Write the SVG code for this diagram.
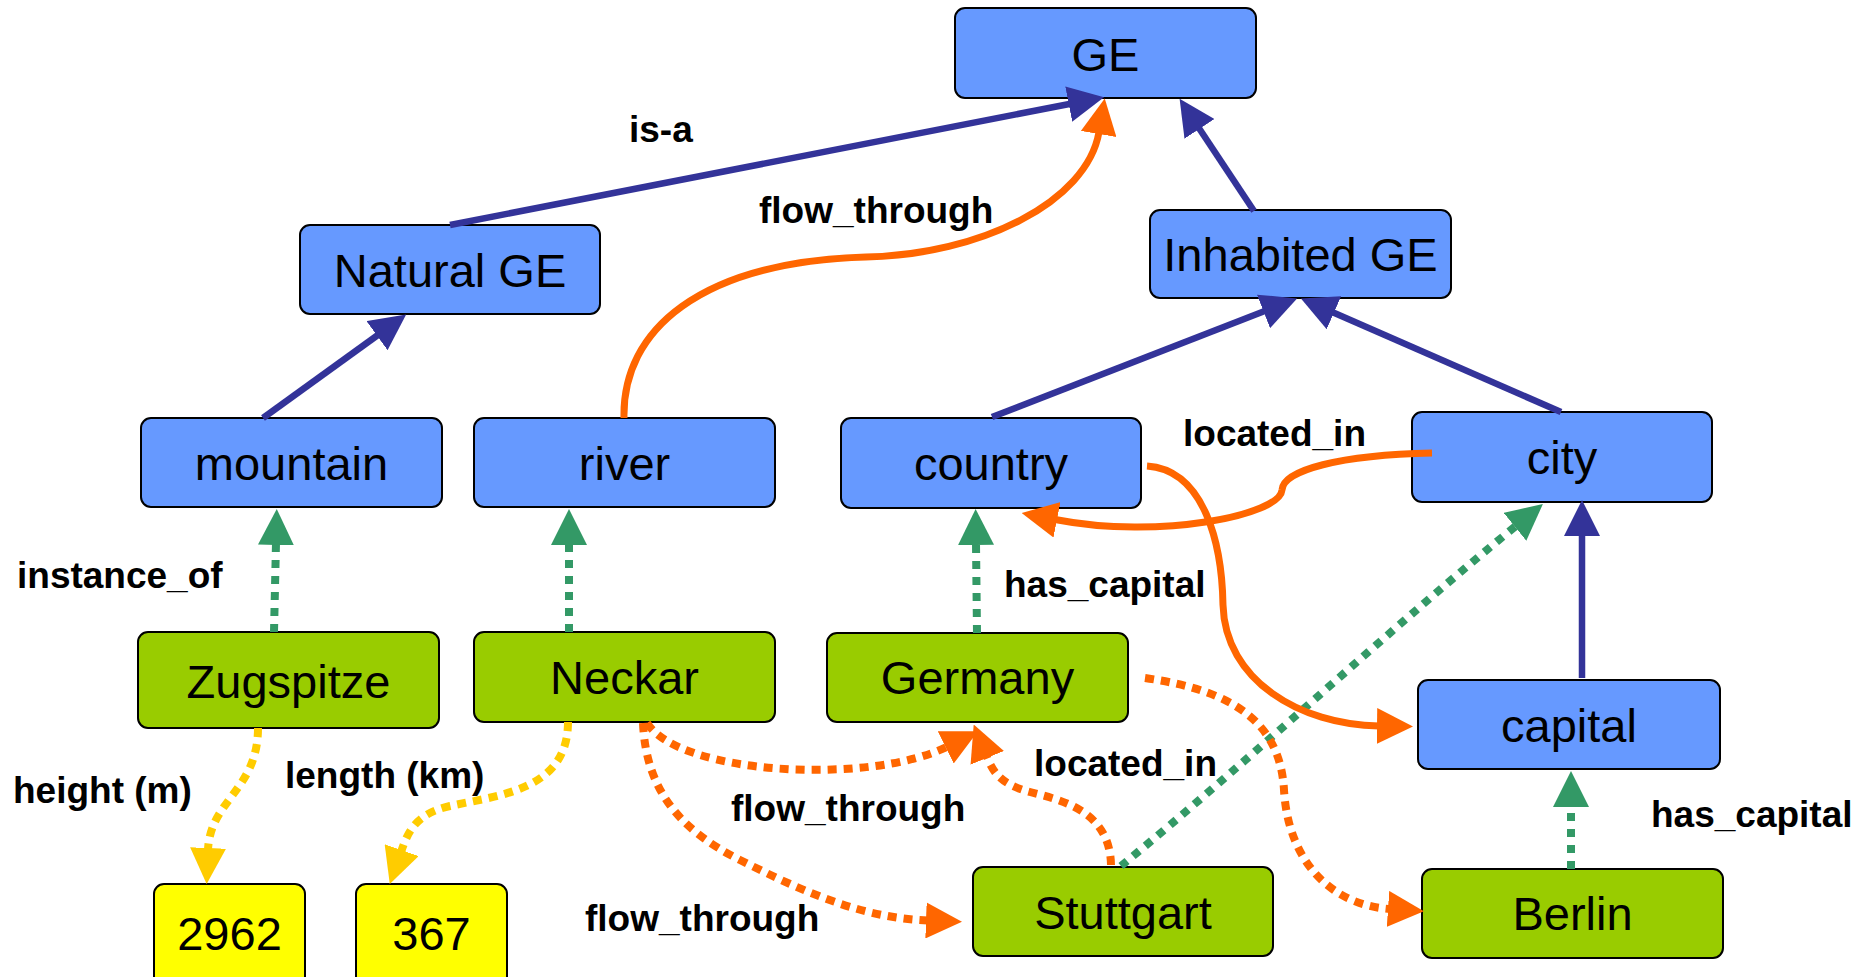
<svg xmlns="http://www.w3.org/2000/svg" width="1868" height="977" viewBox="0 0 1868 977">
  <style>
    .node rect { stroke: #000; stroke-width: 2; }
    .cls rect { fill: #6699ff; }
    .inst rect { fill: #99cc00; }
    .val rect { fill: #ffff00; }
    .node text { font-family: "Liberation Sans", Arial, sans-serif; font-size: 47px; fill: #000; text-anchor: middle; }
    .lbl { font-family: "Liberation Sans", Arial, sans-serif; font-size: 37px; font-weight: bold; fill: #000; }
    .e { fill: none; }
    .isa { stroke: #333399; stroke-width: 6.5; marker-end: url(#hBlue); }
    .rel { stroke: #ff6600; stroke-width: 7; marker-end: url(#hOrange); }
    .relDot { stroke: #ff6600; stroke-width: 8; stroke-dasharray: 9 7; marker-end: url(#hOrange); }
    .inst-of { stroke: #339966; stroke-width: 8; stroke-dasharray: 8 8; marker-end: url(#hGreen); }
    .attr { stroke: #ffcc00; stroke-width: 8; stroke-dasharray: 9 7; marker-end: url(#hYellow); }
  </style>
  <defs>
    <marker id="hBlue" markerUnits="userSpaceOnUse" viewBox="0 -18 36 36" markerWidth="36" markerHeight="36" refX="2" refY="0" orient="auto">
      <path d="M0,-18 L36,0 L0,18 z" fill="#333399"/>
    </marker>
    <marker id="hOrange" markerUnits="userSpaceOnUse" viewBox="0 -18 36 36" markerWidth="36" markerHeight="36" refX="2" refY="0" orient="auto">
      <path d="M0,-18 L36,0 L0,18 z" fill="#ff6600"/>
    </marker>
    <marker id="hGreen" markerUnits="userSpaceOnUse" viewBox="0 -18 36 36" markerWidth="36" markerHeight="36" refX="2" refY="0" orient="auto">
      <path d="M0,-18 L36,0 L0,18 z" fill="#339966"/>
    </marker>
    <marker id="hYellow" markerUnits="userSpaceOnUse" viewBox="0 -18 36 36" markerWidth="36" markerHeight="36" refX="2" refY="0" orient="auto">
      <path d="M0,-18 L36,0 L0,18 z" fill="#ffcc00"/>
    </marker>
  </defs>

  <rect width="1868" height="977" fill="#fff"/>

  <!-- class nodes -->
  <g id="ge" class="node cls"><rect x="955" y="8" width="301" height="90" rx="10"/><text x="1105.5" y="71">GE</text></g>
  <g id="natural-ge" class="node cls"><rect x="300" y="225" width="300" height="89" rx="10"/><text x="450" y="287">Natural GE</text></g>
  <g id="inhabited-ge" class="node cls"><rect x="1150" y="210" width="301" height="88" rx="10"/><text x="1300.5" y="271">Inhabited GE</text></g>
  <g id="mountain" class="node cls"><rect x="141" y="418" width="301" height="89" rx="10"/><text x="291.5" y="480">mountain</text></g>
  <g id="river" class="node cls"><rect x="474" y="418" width="301" height="89" rx="10"/><text x="624.5" y="480">river</text></g>
  <g id="country" class="node cls"><rect x="841" y="418" width="300" height="90" rx="10"/><text x="991" y="480">country</text></g>
  <g id="city" class="node cls"><rect x="1412" y="412" width="300" height="90" rx="10"/><text x="1562" y="474">city</text></g>
  <g id="capital" class="node cls"><rect x="1418" y="680" width="302" height="89" rx="10"/><text x="1569" y="742">capital</text></g>

  <!-- instance nodes -->
  <g id="zugspitze" class="node inst"><rect x="138" y="632" width="301" height="96" rx="10"/><text x="288.5" y="698">Zugspitze</text></g>
  <g id="neckar" class="node inst"><rect x="474" y="632" width="301" height="90" rx="10"/><text x="624.5" y="694">Neckar</text></g>
  <g id="germany" class="node inst"><rect x="827" y="633" width="301" height="89" rx="10"/><text x="977.5" y="694">Germany</text></g>
  <g id="stuttgart" class="node inst"><rect x="973" y="867" width="300" height="89" rx="10"/><text x="1123" y="929">Stuttgart</text></g>
  <g id="berlin" class="node inst"><rect x="1422" y="869" width="301" height="89" rx="10"/><text x="1572.5" y="930">Berlin</text></g>

  <!-- value nodes -->
  <g id="v2962" class="node val"><rect x="154" y="884" width="151" height="110" rx="10"/><text x="229.5" y="950">2962</text></g>
  <g id="v367" class="node val"><rect x="356" y="884" width="151" height="110" rx="10"/><text x="431.5" y="950">367</text></g>

  <!-- connectors -->
  <g id="connectors">
    <!-- subclass links -->
    <path class="e isa" d="M450,225 L1070.7,103.7"/>
    <path class="e isa" d="M263,418 L378.6,334.5"/>
    <path class="e isa" d="M1254,211 L1198.4,127.2"/>
    <path class="e isa" d="M992,417 L1265.4,310.7"/>
    <path class="e isa" d="M1561,412 L1332.1,312"/>
    <path class="e isa" d="M1582,678 L1582,534"/>

    <!-- instance_of / has_capital / located_in (instance level) -->
    <path class="e inst-of" d="M274,632 L276,543"/>
    <path class="e inst-of" d="M569,632 L569,543"/>
    <path class="e inst-of" d="M977,633 L976,543"/>
    <path class="e inst-of" d="M1571,869 L1571,805"/>
    <path class="e inst-of" d="M1121,866 C1250,760 1400,620 1516.5,525.5"/>

    <!-- schema relations -->
    <path class="e rel" d="M624,418 C622,330 700,262 866,257 C980,255 1087,202 1099,132"/>
    <path class="e rel" d="M1147,466 C1205,470 1222,545 1223,605 C1225,680 1300,725 1379,726"/>
    <path class="e rel" d="M1432,453 C1340,455 1283,470 1282,490 C1280,515 1160,540 1055,519.5"/>

    <!-- instance relations -->
    <path class="e relDot" d="M647,723 C680,775 870,785 947.5,746.5"/>
    <path class="e relDot" d="M643,723 C646,790 680,830 740,860 C800,890 860,918 928,920.5"/>
    <path class="e relDot" d="M1111,865 C1110,810 1060,800 1030,792 C1000,784 993,772 986.5,756"/>
    <path class="e relDot" d="M1145,678 C1230,690 1280,720 1284,790 C1288,860 1330,905 1390,909"/>

    <!-- attribute values -->
    <path class="e attr" d="M258,728 C258,790 210,800 208,850"/>
    <path class="e attr" d="M568,722 C568,790 500,795 450,806 C415,814 408,832 401,852"/>
  </g>

  <!-- edge labels -->
  <g id="labels">
    <text class="lbl" x="629" y="142">is-a</text>
    <text class="lbl" x="759" y="223">flow_through</text>
    <text class="lbl" x="1183" y="446">located_in</text>
    <text class="lbl" x="17" y="588">instance_of</text>
    <text class="lbl" x="1004" y="597">has_capital</text>
    <text class="lbl" x="13" y="803">height (m)</text>
    <text class="lbl" x="285" y="788">length (km)</text>
    <text class="lbl" x="731" y="821">flow_through</text>
    <text class="lbl" x="585" y="931">flow_through</text>
    <text class="lbl" x="1034" y="776">located_in</text>
    <text class="lbl" x="1651" y="827">has_capital</text>
  </g>
</svg>
